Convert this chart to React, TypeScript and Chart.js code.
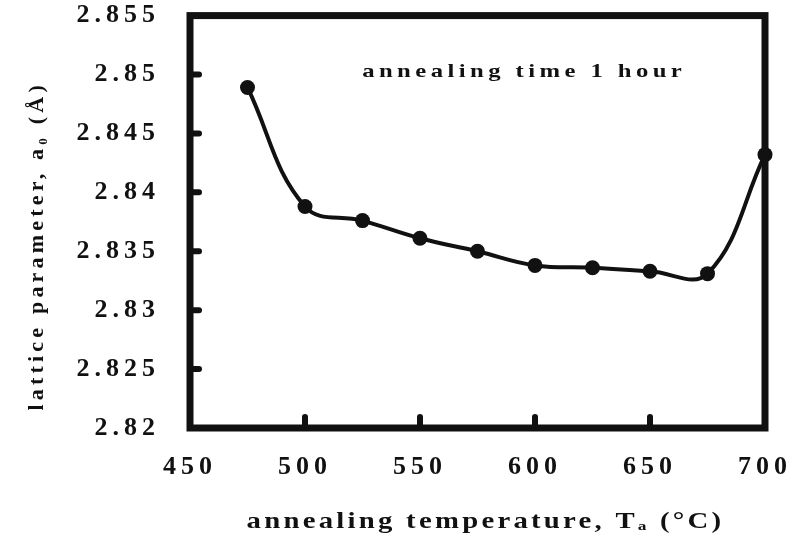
import React, { useEffect, useRef } from "react";
import { Chart, registerables } from "chart.js";

Chart.register(...registerables);

const temperatures = [475, 500, 525, 550, 575, 600, 625, 650, 675, 700];
const latticeParam = [2.8489, 2.8388, 2.8376, 2.8361, 2.835, 2.8338, 2.8336, 2.8333, 2.8331, 2.8432];
const xTicks = [450, 500, 550, 600, 650, 700];
const yTicks = [2.82, 2.825, 2.83, 2.835, 2.84, 2.845, 2.85, 2.855];
const annotation = "annealing time 1 hour";
const xTitle = "annealing temperature, T\u2090 (°C)";
const yTitle = "lattice parameter, a\u2080 (Å)";

const FONT = "'Liberation Serif', 'Times New Roman', serif";

function stretchedText(ctx: any, text: string, cx: number, cy: number, font: string, spacing: string, sx: number) {
  ctx.save();
  ctx.font = font;
  ctx.letterSpacing = spacing;
  ctx.translate(cx, cy);
  ctx.scale(sx, 1);
  ctx.fillText(text, 0, 0);
  ctx.restore();
}

const framePlugin = {
  id: "frameAndTicks",
  beforeDraw(chart: any) {
    chart.ctx.letterSpacing = "5px";
  },
  afterDraw(chart: any) {
    const { ctx, chartArea, scales } = chart;
    const { left, right, top, bottom } = chartArea;
    ctx.save();
    ctx.strokeStyle = "#111";
    ctx.lineCap = "round";
    // inward ticks
    ctx.lineWidth = 6;
    yTicks.slice(1, -1).forEach((v) => {
      const y = scales.y.getPixelForValue(v);
      ctx.beginPath();
      ctx.moveTo(left, y);
      ctx.lineTo(left + 9, y);
      ctx.stroke();
    });
    xTicks.slice(1, -1).forEach((v) => {
      const x = scales.x.getPixelForValue(v);
      ctx.beginPath();
      ctx.moveTo(x, bottom);
      ctx.lineTo(x, bottom - 11);
      ctx.stroke();
    });
    // frame
    ctx.lineWidth = 7;
    ctx.lineJoin = "miter";
    ctx.lineCap = "butt";
    ctx.strokeRect(left, top, right - left, bottom - top);
    ctx.fillStyle = "#111";
    ctx.textAlign = "center";
    ctx.textBaseline = "middle";
    // annotation
    stretchedText(ctx, annotation, scales.x.getPixelForValue(594) + 3, scales.y.getPixelForValue(2.8502),
      `bold 19px ${FONT}`, "3.4px", 1.3);
    // x title
    stretchedText(ctx, xTitle, (left + right) / 2 + 8, 522, `bold 23px ${FONT}`, "2.6px", 1.25);
    // y title
    ctx.font = `bold 22px ${FONT}`;
    ctx.letterSpacing = "4.2px";
    ctx.translate(37, (top + bottom) / 2 + 26);
    ctx.rotate(-Math.PI / 2);
    ctx.fillText(yTitle, 2, 0);
    ctx.restore();
  },
};

export default function App() {
  const ref = useRef<HTMLCanvasElement>(null);
  useEffect(() => {
    if (!ref.current) return;
    const chart = new Chart(ref.current, {
      type: "line",
      data: {
        datasets: [
          {
            data: temperatures.map((t, i) => ({ x: t, y: latticeParam[i] })),
            borderColor: "#111",
            backgroundColor: "#111",
            borderWidth: 4,
            pointRadius: 7.5,
            pointBackgroundColor: "#111",
            pointBorderWidth: 0,
            tension: 0.4,
            clip: false,
          },
        ],
      },
      options: {
        animation: false,
        responsive: true,
        maintainAspectRatio: false,
        layout: { padding: { top: 13, right: 33, left: 0, bottom: 0 } },
        plugins: { legend: { display: false }, tooltip: { enabled: false } },
        scales: {
          x: {
            type: "linear",
            min: 450,
            max: 700,
            afterBuildTicks: (s: any) => {
              s.ticks = xTicks.map((v) => ({ value: v }));
            },
            afterFit: (s: any) => {
              s.height = 118;
            },
            grid: { display: true, drawOnChartArea: false, drawTicks: true, tickLength: 24, color: "transparent", tickColor: "transparent" },
            border: { display: false },
            ticks: {
              color: "#111",
              padding: 0,
              maxRotation: 0,
              font: { family: FONT, size: 26, weight: "bold" },
              callback: (v: any) => String(v),
            },
          },
          y: {
            type: "linear",
            min: 2.82,
            max: 2.855,
            afterBuildTicks: (s: any) => {
              s.ticks = yTicks.map((v) => ({ value: v }));
            },
            afterFit: (s: any) => {
              s.width = 190;
            },
            grid: { display: true, drawOnChartArea: false, drawTicks: true, tickLength: 30, color: "transparent", tickColor: "transparent" },
            border: { display: false },
            ticks: {
              color: "#111",
              padding: 0,
              font: { family: FONT, size: 26, weight: "bold" },
              callback: (v: any) => String(Number(Number(v).toFixed(3))),
            },
          },
        },
      },
      plugins: [framePlugin],
    } as any);
    return () => chart.destroy();
  }, []);
  return (
    <div style={{ position: "absolute", left: 0, top: 0, width: 798, height: 546, background: "#fff" }}>
      <canvas ref={ref} />
    </div>
  );
}
